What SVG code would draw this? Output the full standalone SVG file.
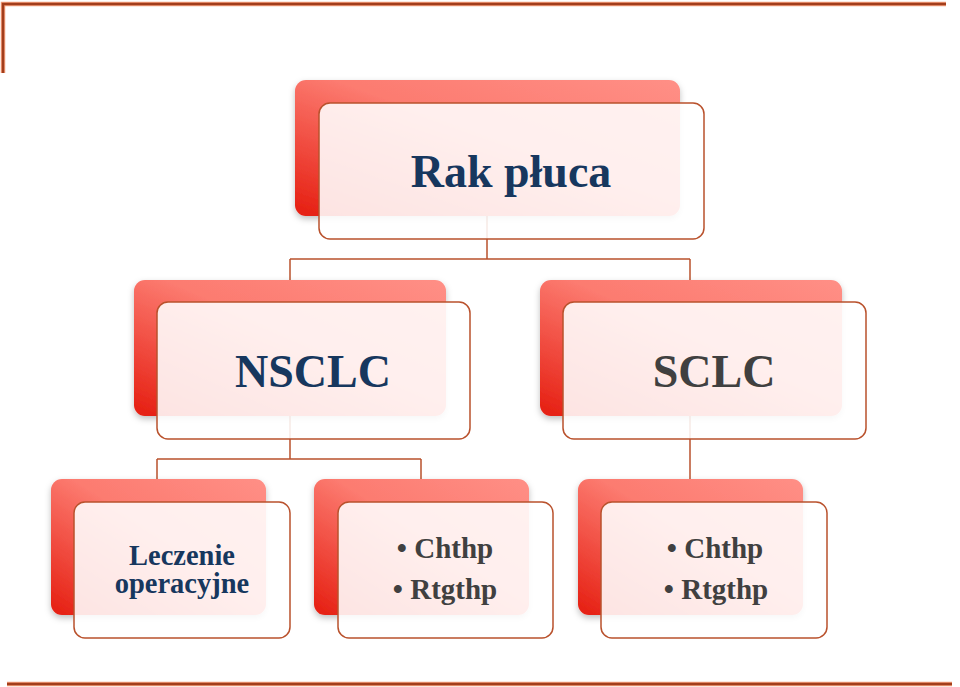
<svg xmlns="http://www.w3.org/2000/svg" width="960" height="687" viewBox="0 0 960 687">
<defs>
<linearGradient id="redg" x1="1" y1="0" x2="0" y2="1">
<stop offset="0" stop-color="#ff8f86"/>
<stop offset="0.45" stop-color="#fc7b70"/>
<stop offset="1" stop-color="#e51d10"/>
</linearGradient>
<filter id="sh" x="-10%" y="-10%" width="120%" height="125%">
<feDropShadow dx="0" dy="3" stdDeviation="3" flood-color="#000" flood-opacity="0.25"/>
</filter>
</defs>
<style>
.back{fill:url(#redg);filter:url(#sh)}
.front{fill:#ffffff;fill-opacity:0.88;stroke:#b9512c;stroke-width:1.5}
.conn{fill:none;stroke:#b9512c;stroke-width:1.5}
.t{font-family:"Liberation Serif","Times New Roman",serif;font-weight:bold;text-anchor:middle}
.navy{fill:#17375e}
.gray{fill:#404040}
.frame{fill:none;stroke:#a23e1c;stroke-width:2.5}
.frame2{fill:none;stroke:#f4a07c;stroke-width:4.5}
</style>
<g id="frame">
<path class="frame2" d="M3,73 V4 H946"/>
<path class="frame" d="M3,73 V4 H946"/>
<line class="frame2" x1="7" y1="684" x2="952" y2="684"/>
<line class="frame" x1="7" y1="684" x2="952" y2="684"/>
</g>
<g id="connectors">
<path class="conn" d="M487,216 V259 M290,259 H690 M290,259 V280 M690,259 V280"/>
<path class="conn" d="M290,416 V459 M157,459 H421 M157,459 V479 M421,459 V479"/>
<path class="conn" d="M690,416 V479"/>
</g>
<g id="root">
<rect class="back" x="295" y="80" width="385" height="136" rx="11"/>
<rect class="front" x="319" y="103" width="385" height="136" rx="11"/>
<text class="t navy" x="511" y="187" font-size="46">Rak płuca</text>
</g>
<g id="nsclc">
<rect class="back" x="134" y="280" width="312" height="136" rx="11"/>
<rect class="front" x="157" y="302" width="313" height="137" rx="11"/>
<text class="t navy" x="313" y="387" font-size="46">NSCLC</text>
</g>
<g id="sclc">
<rect class="back" x="540" y="280" width="302" height="136" rx="11"/>
<rect class="front" x="563" y="302" width="303" height="137" rx="11"/>
<text class="t gray" x="714" y="387" font-size="46">SCLC</text>
</g>
<g id="leczenie">
<rect class="back" x="51" y="479" width="215" height="136" rx="11"/>
<rect class="front" x="74" y="502" width="216" height="136" rx="11"/>
<text class="t navy" x="182" y="565" font-size="28.5">Leczenie</text>
<text class="t navy" x="182" y="593" font-size="28.5">operacyjne</text>
</g>
<g id="nsclc-therapy">
<rect class="back" x="314" y="479" width="215" height="136" rx="11"/>
<rect class="front" x="338" y="502" width="215" height="136" rx="11"/>
<text class="t gray" x="445" y="558" font-size="29">• Chthp</text>
<text class="t gray" x="445" y="599" font-size="29">• Rtgthp</text>
</g>
<g id="sclc-therapy">
<rect class="back" x="578" y="479" width="225" height="136" rx="11"/>
<rect class="front" x="601" y="502" width="226" height="136" rx="11"/>
<text class="t gray" x="715" y="558" font-size="29">• Chthp</text>
<text class="t gray" x="716" y="599" font-size="29">• Rtgthp</text>
</g>
</svg>
